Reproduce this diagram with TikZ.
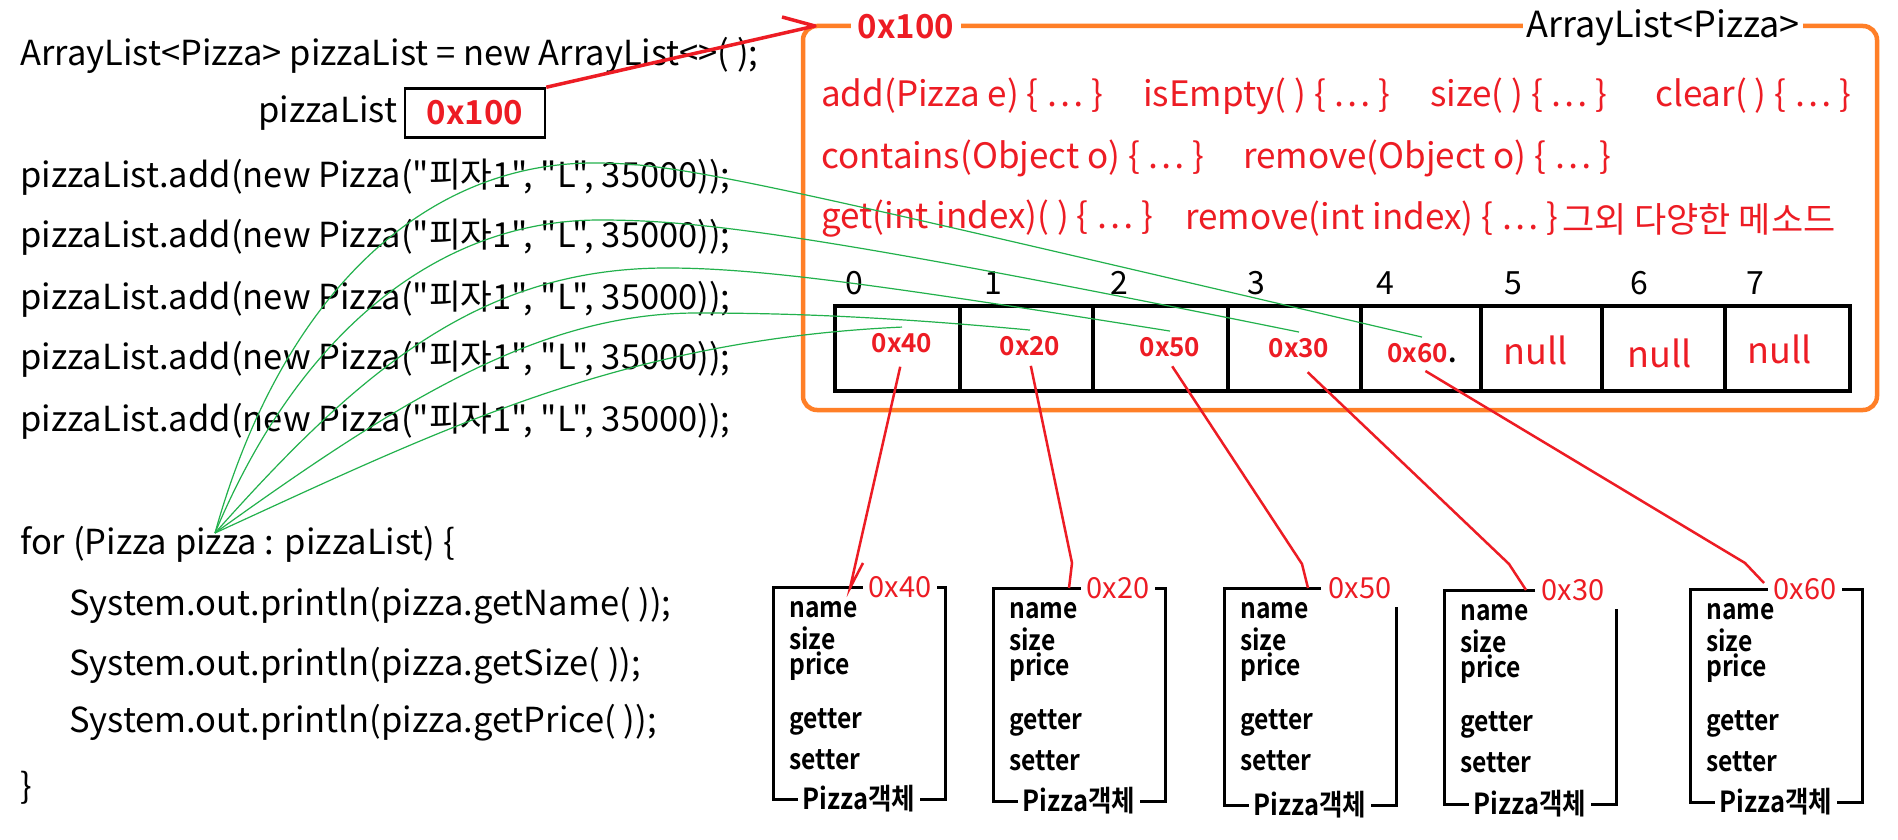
\documentclass[tikz,border=0pt]{standalone}
\usepackage{fontspec}
\setmainfont{Noto Sans CJK KR}[BoldFont={Noto Sans CJK KR Bold},Ligatures=TeXOff]
\newfontfamily\objfont{Noto Sans CJK KR Bold}[FakeStretch=0.88]
\definecolor{pRed}{RGB}{237,28,36}
\definecolor{pOrange}{RGB}{255,127,39}
\definecolor{pGreen}{RGB}{34,177,76}
\begin{document}
\begin{tikzpicture}[x=1pt,y=-1pt,
    code/.style={anchor=west,inner sep=0pt,font=\fontsize{34.5}{38}\selectfont},
    meth/.style={anchor=west,inner sep=0pt,text=pRed,font=\fontsize{35}{38}\selectfont},
    addr/.style={text=pRed,inner xsep=1pt,inner ysep=6pt,font=\bfseries\fontsize{26}{28}\selectfont},
    nil/.style={text=pRed,font=\fontsize{36}{40}\selectfont},
    idx/.style={inner sep=0pt,font=\fontsize{32}{34}\selectfont},
    field/.style={anchor=west,inner sep=0pt,font=\objfont\fontsize{28}{30}\selectfont},
    objaddr/.style={fill=white,text=pRed,inner xsep=6pt,inner ysep=0pt,font=\fontsize{29}{31}\selectfont},
    objname/.style={fill=white,inner xsep=5pt,inner ysep=0pt,font=\objfont\fontsize{29}{31}\selectfont},
    objline/.style={line width=3pt},
    link/.style={pGreen,line width=1.2pt},
    ptr/.style={pRed,line width=2.5pt},
  ]
  \fill[white] (0,0) rectangle (1898,840);
  \useasboundingbox (0,0) rectangle (1898,840);

  % code on the left
  \node[code] (decl) at (20,55) {ArrayList<Pizza> pizzaList = new ArrayList<>( );};
  \node[code] (var) at (258,113) {pizzaList};
  \node[draw,line width=2.5pt,minimum width=140pt,minimum height=49pt,text=pRed,
    font=\bfseries\fontsize{33}{35}\selectfont] (ref) at (475,113) {0x100};
  \foreach \y [count=\i] in {177,237,299,359,421}
    \node[code] (add\i) at (20,\y) {pizzaList.add(new Pizza("피자1", "L", 35000));};
  \node[code] (loop) at (20,544) {for (Pizza pizza : pizzaList) \{};
  \node[code] (getname) at (69,606) {System.out.println(pizza.getName( ));};
  \node[code] (getsize) at (69,666) {System.out.println(pizza.getSize( ));};
  \node[code] (getprice) at (69,723) {System.out.println(pizza.getPrice( ));};
  \node[code] (close) at (20,788) {\}};

  % the ArrayList object
  \draw[pOrange,line width=4.5pt,rounded corners=14pt] (803,26) rectangle (1877,410);
  \node[fill=white,text=pRed,inner xsep=7pt,inner ysep=0pt,
    font=\bfseries\fontsize{33}{35}\selectfont] (head) at (906,27) {0x100};
  \node[fill=white,inner xsep=3pt,inner ysep=0pt,font=\fontsize{36}{40}\selectfont] (cls) at (1663,28) {ArrayList<Pizza>};

  \node[meth] (m1) at (821,96) {add(Pizza e) \{ … \}};
  \node[meth] (m2) at (1143,96) {isEmpty( ) \{ … \}};
  \node[meth] (m3) at (1430,96) {size( ) \{ … \}};
  \node[meth] (m4) at (1655,96) {clear( ) \{ … \}};
  \node[meth] (m5) at (821,158) {contains(Object o) \{ … \}};
  \node[meth] (m6) at (1243,158) {remove(Object o) \{ … \}};
  \node[meth] (m7) at (821,219) {get(int index)( ) \{ … \}};
  \node[meth] (m8) at (1185,219) {remove(int index) \{ … \}};
  \node[meth] (m9) at (1562,219) {그외 다양한 메소드};

  % array cells
  \foreach \x [count=\i from 0] in {854,993,1119,1256,1385,1513,1639,1755}
    \node[idx] (i\i) at (\x,283) {\i};
  \draw[line width=4.5pt] (835,306) rectangle (1850,391);
  \foreach \x in {960,1093,1228,1361,1481,1602,1725}
    \draw[line width=4pt] (\x,306) -- (\x,391);
  \node[addr] (c0) at (902,343) {0x40};
  \node[addr] (c1) at (1030,346) {0x20};
  \node[addr] (c2) at (1170,347) {0x50};
  \node[addr] (c3) at (1299,348) {0x30};
  \node[addr] (c4) at (1422,353) {0x60\textcolor{black}{.}};
  \node[nil] (c5) at (1536,350) {null};
  \node[nil] (c6) at (1660,353) {null};
  \node[nil] (c7) at (1780,349) {null};

  % green links from the loop variable
  \coordinate (pz) at (215,533);
  \draw[link] (pz) .. controls (280,300) and (420,163) .. (594,163)
    .. controls (680,163) and (750,180) .. (c4.north);
  \draw[link] (pz) .. controls (300,330) and (440,220) .. (600,220)
    .. controls (700,220) and (820,235) .. (c3.north);
  \draw[link] (pz) .. controls (360,370) and (480,268) .. (667,268)
    .. controls (760,268) and (880,285) .. (c2.north);
  \draw[link] (pz) .. controls (400,400) and (540,313) .. (697,313)
    .. controls (800,313) and (900,318) .. (c1.north);
  \draw[link] (pz) .. controls (440,430) and (620,340) .. (c0.north);

  % reference arrow
  \coordinate (ltop) at (815,26);
  \draw[pRed,line width=3.5pt,line join=round] (ref.north east) -- (ltop) -- ++(-33,-9);

  % Pizza objects
  \foreach \lx/\ty/\by in {773/587/799, 993/588/801, 1690/589/802}
    \draw[objline] (\lx,\ty) rectangle ({\lx+172},\by);
  \foreach \lx/\ty/\by/\ex in {1224/588/805/1321, 1444/590/804/1535}
    \draw[objline] (\ex,\ty) -- (\lx,\ty) -- (\lx,\by) -- ({\lx+172},\by) -- ({\lx+172},{\ty+19});
  \foreach \n/\lx/\ty/\by/\ax/\addr in {1/773/587/799/900/0x40, 2/993/588/801/1118/0x20,
      3/1224/588/805/1360/0x50, 4/1444/590/804/1573/0x30, 5/1690/589/802/1805/0x60}{
    \node[objaddr] (a\n) at (\ax,\ty) {\addr};
    \node[objname] (t\n) at ({\lx+86},\by) {Pizza객체};
    \foreach \f/\dy in {name/23,size/51,price/79,getter/135,setter/173}
      \node[field] (f\n\f) at ({\lx+16},{\ty+\dy}) {\f};
  }

  % pointers from cells to objects
  \coordinate (o1) at (850,588);
  \coordinate (o2) at (1069,588);
  \coordinate (o3) at (1308,588);
  \coordinate (o4) at (1526,590);
  \coordinate (o5) at (1764,583);
  \draw[ptr,shorten <=8pt] (c0.south) -- (o1) -- ++(13,-25);
  \draw[ptr,shorten <=4pt] (c1.south) -- (1072,563) -- (o2);
  \draw[ptr,shorten <=4pt] (c2.south) -- (1302,564) -- (o3);
  \draw[ptr,shorten <=12pt] (c3.south) -- (1509,564) -- (o4);
  \draw[ptr,shorten <=4pt] (c4.south) -- (1745,563) -- (o5);
\end{tikzpicture}
\end{document}
